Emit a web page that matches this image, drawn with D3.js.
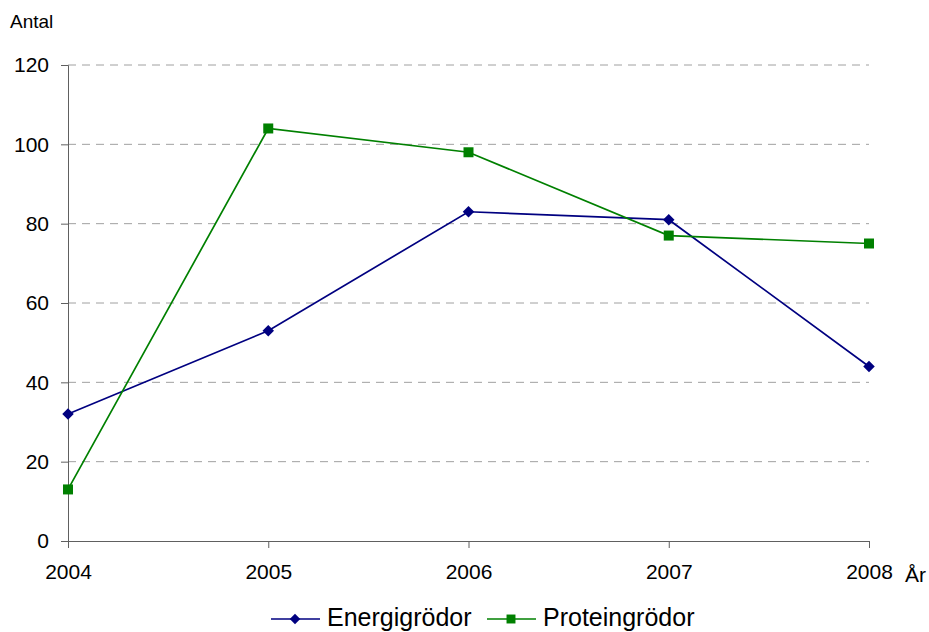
<!DOCTYPE html>
<html><head><meta charset="utf-8">
<script src="https://cdn.jsdelivr.net/npm/d3@7"></script>
<style>body{margin:0;background:#fff;}svg{display:block;font-family:"Liberation Sans",Arial,sans-serif;}</style>
</head><body>
<svg id="c" width="929" height="632"></svg>
<script>
const years = ["2004","2005","2006","2007","2008"];
const energi = [32, 53, 83, 81, 44];
const protein = [13, 104, 98, 77, 75];
const yTicks = [0, 20, 40, 60, 80, 100, 120];

const svg = d3.select("#c");
const x = d3.scalePoint().domain(years).range([68, 869]);
const y = d3.scaleLinear().domain([0, 120]).range([541, 65]);
const FONT = "Liberation Sans, Arial, sans-serif";

// gridlines
svg.append("g").selectAll("line").data(yTicks.filter(d => d > 0)).join("line")
  .attr("x1", 68).attr("x2", 869)
  .attr("y1", d => y(d)).attr("y2", d => y(d))
  .attr("stroke", "#a0a0a0").attr("stroke-width", 1).attr("stroke-dasharray", "8,6");

// y axis
const yAxis = d3.axisLeft(y).tickValues(yTicks).tickSize(7).tickPadding(12);
const gy = svg.append("g").attr("transform", "translate(68,0)").call(yAxis);
gy.attr("font-size", null).attr("font-family", null);
gy.select(".domain").attr("stroke", "#606060");
gy.selectAll(".tick line").attr("stroke", "#606060");
gy.selectAll("text").style("font-size", "21px").style("font-family", FONT).attr("fill", "#000");

// x axis
const xAxis = d3.axisBottom(x).tickSize(7).tickPadding(16).tickSizeOuter(0);
const gx = svg.append("g").attr("transform", "translate(0,541)").call(xAxis);
gx.attr("font-size", null).attr("font-family", null);
gx.select(".domain").attr("stroke", "#606060");
gx.selectAll(".tick line").attr("stroke", "#606060");
gx.selectAll("text").style("font-size", "21px").style("font-family", FONT).attr("fill", "#000");

svg.append("text").attr("x", 10).attr("y", 28).style("font-size", "19px").text("Antal");
svg.append("text").attr("x", 905).attr("y", 582).style("font-size", "21px").text("År");

const line = d3.line().x((d, i) => x(years[i])).y(d => y(d));
const blue = "#000080", green = "#008000";

svg.append("path").datum(energi).attr("d", line).attr("fill", "none").attr("stroke", blue).attr("stroke-width", 1.7);
svg.append("path").datum(protein).attr("d", line).attr("fill", "none").attr("stroke", green).attr("stroke-width", 1.7);

const diamond = d3.symbol().type(d3.symbolDiamond2).size(85);
const square = d3.symbol().type(d3.symbolSquare).size(100);

svg.append("g").selectAll("path").data(energi).join("path")
  .attr("d", diamond)
  .attr("transform", (d, i) => `translate(${x(years[i])},${y(d)})`)
  .attr("fill", blue);
svg.append("g").selectAll("path").data(protein).join("path")
  .attr("d", square)
  .attr("transform", (d, i) => `translate(${x(years[i])},${y(d)})`)
  .attr("fill", green);

// legend
const lg = svg.append("g").attr("transform", "translate(0,619)");
const items = [{name: "Energigrödor", color: blue, sym: "d", x0: 271},
               {name: "Proteingrödor", color: green, sym: "s", x0: 487}];
items.forEach(it => {
  lg.append("line").attr("x1", it.x0).attr("x2", it.x0 + 49).attr("y1", 0).attr("y2", 0)
    .attr("stroke", it.color).attr("stroke-width", 1.7);
  lg.append("path")
    .attr("d", it.sym === "d" ? d3.symbol().type(d3.symbolDiamond2).size(70)() : d3.symbol().type(d3.symbolSquare).size(80)())
    .attr("transform", `translate(${it.x0 + 24},0)`)
    .attr("fill", it.color);
  lg.append("text").attr("x", it.x0 + 56).attr("y", 7).style("font-size", "25px").text(it.name);
});
</script>
</body></html>
